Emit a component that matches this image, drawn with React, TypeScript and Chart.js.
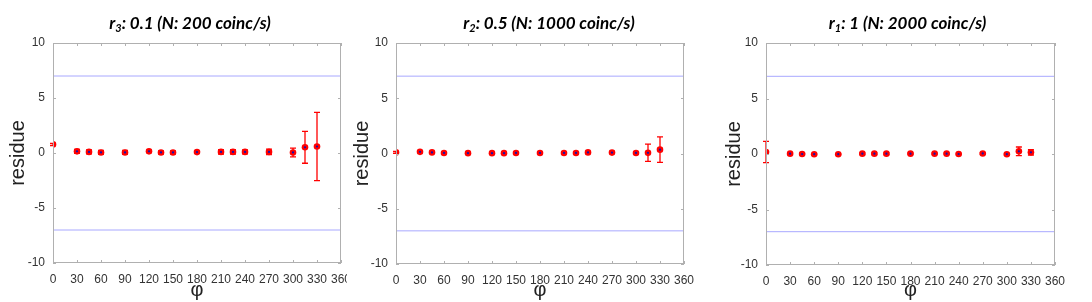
import React, { useEffect, useRef } from "react";
import { Chart, registerables } from "chart.js";
Chart.register(...registerables);

const phi = [0, 30, 45, 60, 90, 120, 135, 150, 180, 210, 225, 240, 270, 300, 315, 330];
const r3Values = [0.78, 0.15, 0.1, 0.05, 0.05, 0.15, 0.05, 0.05, 0.08, 0.1, 0.1, 0.1, 0.1, 0.05, 0.52, 0.59];
const r3Errors = [0.1, 0.18, 0.18, 0.18, 0.18, 0.12, 0.15, 0.15, 0.12, 0.2, 0.2, 0.18, 0.25, 0.4, 1.45, 3.1];
const r2Values = [0.1, 0.15, 0.1, 0.05, 0.03, 0.03, 0.03, 0.05, 0.05, 0.05, 0.05, 0.1, 0.08, 0.05, 0.06, 0.35];
const r2Errors = [0.08, 0.1, 0.08, 0.08, 0.06, 0.06, 0.08, 0.08, 0.08, 0.08, 0.08, 0.1, 0.1, 0.1, 0.78, 1.15];
const r1Values = [0.18, 0.03, 0, -0.02, -0.02, 0.03, 0.03, 0.03, 0.03, 0.03, 0.03, 0, 0.05, -0.02, 0.24, 0.15];
const r1Errors = [0.96, 0.08, 0.06, 0.06, 0.06, 0.08, 0.08, 0.08, 0.06, 0.06, 0.06, 0.06, 0.08, 0.08, 0.39, 0.24];
const limitValue = 7;
const xTitle = "φ";
const yTitle = "residue";
const titles = [
  { r: "r", sub: "3", rest: ": 0.1 (N: 200 coinc/s)" },
  { r: "r", sub: "2", rest: ": 0.5 (N: 1000 coinc/s)" },
  { r: "r", sub: "1", rest: ": 1 (N: 2000 coinc/s)" },
];
const seriesValues = [r3Values, r2Values, r1Values];
const seriesErrors = [r3Errors, r2Errors, r1Errors];

const layouts = [
  { left: 0, width: 362, clip: 347, plotLeft: 53, plotRight: 341, plotBottom: 263, yPad: 6, titleShift: -7 },
  { left: 348, width: 372, clip: 372, plotLeft: 396, plotRight: 684, plotBottom: 264, yPad: 2, titleShift: 9 },
  { left: 722, width: 370, clip: 370, plotLeft: 766, plotRight: 1055, plotBottom: 265, yPad: 0, titleShift: -3 },
];
const H = 302;
const PLOT_TOP = 43;

function Panel({ idx }: { idx: number }) {
  const ref = useRef<HTMLCanvasElement>(null);
  const L = layouts[idx];
  useEffect(() => {
    const values = seriesValues[idx];
    const errors = seriesErrors[idx];
    const t = titles[idx];
    const pts = phi.map((x, i) => ({ x, y: values[i] }));
    const deco = {
      id: "deco" + idx,
      beforeDatasetsDraw(chart: any) {
        const { ctx, scales } = chart;
        const xs = scales.x, ys = scales.y;
        ctx.save();
        ctx.strokeStyle = "#ff0000";
        ctx.lineWidth = 1.3;
        phi.forEach((x, i) => {
          const px = xs.getPixelForValue(x);
          const top = ys.getPixelForValue(values[i] + errors[i]);
          const bot = ys.getPixelForValue(values[i] - errors[i]);
          ctx.beginPath();
          ctx.moveTo(px, top); ctx.lineTo(px, bot);
          ctx.moveTo(px - 3, top); ctx.lineTo(px + 3, top);
          ctx.moveTo(px - 3, bot); ctx.lineTo(px + 3, bot);
          ctx.stroke();
        });
        ctx.restore();
      },
      afterDraw(chart: any) {
        const { ctx, chartArea: a, scales } = chart;
        ctx.save();
        ctx.strokeStyle = "#b0b0b0";
        ctx.lineWidth = 1;
        ctx.strokeRect(a.left + 0.5, a.top + 0.5, a.right - a.left - 1, a.bottom - a.top - 1);
        ctx.beginPath();
        scales.x.ticks.forEach((tk: any) => {
          const px = Math.round(scales.x.getPixelForValue(tk.value)) + 0.5;
          ctx.moveTo(px, a.top); ctx.lineTo(px, a.top + 3);
          ctx.moveTo(px, a.bottom); ctx.lineTo(px, a.bottom - 3);
        });
        scales.y.ticks.forEach((tk: any) => {
          const py = Math.round(scales.y.getPixelForValue(tk.value)) + 0.5;
          ctx.moveTo(a.left, py); ctx.lineTo(a.left + 3, py);
          ctx.moveTo(a.right, py); ctx.lineTo(a.right - 3, py);
        });
        ctx.stroke();
        // title
        const big = "italic bold 17px Lato";
        const small = "italic bold 11px Lato";
        ctx.fillStyle = "#000";
        ctx.textBaseline = "alphabetic";
        ctx.font = big;
        const w1 = ctx.measureText(t.r).width;
        const w3 = ctx.measureText(t.rest).width;
        ctx.font = small;
        const w2 = ctx.measureText(t.sub).width;
        const total = w1 + w2 + w3;
        let x = (a.left + a.right) / 2 + L.titleShift - total / 2;
        const base = 29;
        ctx.font = big; ctx.fillText(t.r, x, base); x += w1;
        ctx.font = small; ctx.fillText(t.sub, x, base + 3); x += w2;
        ctx.font = big; ctx.fillText(t.rest, x, base);
        ctx.restore();
      },
    };
    const tickFont = { family: "Liberation Sans, Arial, sans-serif", size: 12 };
    const chart = new Chart(ref.current!, {
      type: "scatter",
      data: {
        datasets: [
          {
            type: "line", order: 3, data: [{ x: 0, y: limitValue }, { x: 360, y: limitValue }],
            borderColor: "#a8a8ff", borderWidth: 1, pointRadius: 0,
          } as any,
          {
            type: "line", order: 3, data: [{ x: 0, y: -limitValue }, { x: 360, y: -limitValue }],
            borderColor: "#a8a8ff", borderWidth: 1, pointRadius: 0,
          } as any,
          { order: 2, data: pts, pointRadius: 3.3, pointBackgroundColor: "#ff0000", backgroundColor: "#ff0000", pointBorderWidth: 0, borderWidth: 0 } as any,
          { order: 1, data: pts, pointRadius: 1.1, pointBackgroundColor: "#1010b0", backgroundColor: "#1010b0", pointBorderWidth: 0, borderWidth: 0 } as any,
        ],
      },
      options: {
        animation: false,
        responsive: false,
        events: [],
        layout: { padding: { left: 0, top: PLOT_TOP, right: L.left + L.width - L.plotRight, bottom: 0 } },
        plugins: { legend: { display: false }, tooltip: { enabled: false }, title: { display: false } },
        scales: {
          x: {
            type: "linear", min: 0, max: 360,
            ticks: { stepSize: 30, color: "#333", font: tickFont, padding: 9, maxRotation: 0, autoSkip: false },
            grid: { display: false, drawTicks: false },
            border: { display: false },
            title: { display: true, text: xTitle, color: "#222", font: { family: "Liberation Sans, Arial, sans-serif", size: 20 }, padding: { top: 0, bottom: 0 } },
            afterFit: (s: any) => { s.height = H - L.plotBottom; },
          },
          y: {
            type: "linear", min: -10, max: 10,
            ticks: { stepSize: 5, color: "#333", font: tickFont, padding: 8 },
            grid: { display: false, drawTicks: false },
            border: { display: false },
            title: { display: true, text: yTitle, color: "#222", font: { family: "Liberation Sans, Arial, sans-serif", size: 20 }, padding: { top: L.yPad, bottom: 0 } },
            afterFit: (s: any) => { s.width = L.plotLeft - L.left; },
          },
        },
      } as any,
      plugins: [deco],
    });
    return () => chart.destroy();
  }, [idx]);
  return (
    <div style={{ position: "absolute", left: L.left, top: 0, width: L.clip, height: H, overflow: "hidden" }}>
      <canvas ref={ref} width={L.width} height={H} style={{ width: L.width, height: H, display: "block" }} />
    </div>
  );
}

export default function App() {
  return (
    <div style={{ position: "absolute", left: 0, top: 0, width: 1092, height: H, background: "#fff", overflow: "hidden" }}>
      <Panel idx={0} />
      <Panel idx={1} />
      <Panel idx={2} />
    </div>
  );
}
